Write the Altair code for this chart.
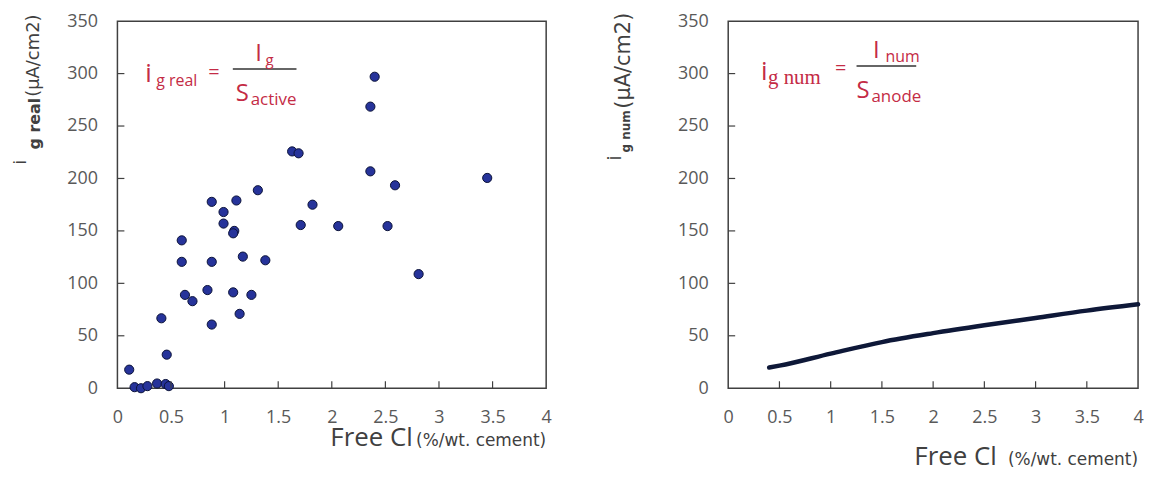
import altair as alt
import pandas as pd

# ---- data ----
real_x = [0.11, 0.16, 0.22, 0.28, 0.37, 0.45, 0.48, 0.41, 0.46, 0.60, 0.60, 0.63, 0.70,
          0.84, 0.88, 0.88, 0.88, 0.99, 0.99, 1.08, 1.09, 1.08, 1.11, 1.14, 1.17, 1.25,
          1.31, 1.38, 1.63, 1.69, 1.71, 1.82, 2.06, 2.36, 2.40, 2.36, 2.59, 2.52, 2.81, 3.45]
real_y = [17.7, 1, 0, 2, 4.5, 4, 2, 66.7, 32, 141, 120.5, 89, 83,
          93.6, 120.5, 177.7, 60.7, 168, 157, 91.4, 150, 147.7, 179, 70.9, 125.5, 89,
          188.8, 122, 225.8, 224, 155.6, 175, 154.6, 268.5, 297, 206.8, 193.5, 154.6, 108.8, 200.5]

num_x = [0.4, 0.5, 1.0, 1.5, 2.0, 2.5, 3.0, 3.5, 4.0]
num_y = [19.7, 21.5, 33.0, 44.0, 52.5, 60.0, 67.0, 74.0, 80.0]

x_ticks = [0, 0.5, 1, 1.5, 2, 2.5, 3, 3.5, 4]
x_inner_ticks = [0.5, 1, 1.5, 2, 2.5, 3, 3.5]
y_ticks = [0, 50, 100, 150, 200, 250, 300, 350]
y_inner_ticks = [50, 100, 150, 200, 250, 300]

FONT = "Open Sans"
TFONT = "DejaVu Sans"
RED = "#c42b45"
GRAY = "#595959"
DARK = "#404040"

W1, H1 = 431, 369
W2, H2 = 412, 369


def txt(text, x, y, size, color, align="left", angle=0, weight="normal", font=FONT, baseline="alphabetic"):
    return alt.Chart(pd.DataFrame({"t": [text]})).mark_text(
        text=text, align=align, baseline=baseline, angle=angle, fontSize=size,
        color=color, font=font, fontWeight=weight
    ).encode(x=alt.value(x), y=alt.value(y))


def rule_px(x, x2, y, y2, color, width):
    return alt.Chart(pd.DataFrame({"a": [0]})).mark_rule(color=color, strokeWidth=width).encode(
        x=alt.value(x), x2=alt.value(x2), y=alt.value(y), y2=alt.value(y2))


xscale = alt.Scale(domain=[0, 4], nice=False, zero=False)
yscale = alt.Scale(domain=[0, 350], nice=False)


def xaxis():
    return alt.Axis(values=x_ticks, format="~g", title=None, grid=False, ticks=False,
                    labelFont=FONT, labelFontSize=18, labelColor=GRAY, labelPadding=20,
                    domain=False, labelFlush=False)


def yaxis():
    return alt.Axis(values=y_ticks, title=None, grid=False, ticks=False,
                    labelFont=FONT, labelFontSize=18, labelColor=GRAY, labelPadding=20,
                    domain=False, labelFlush=False)


def tick_layers(H):
    xt = alt.Chart(pd.DataFrame({"v": x_inner_ticks})).mark_rule(color=DARK, strokeWidth=1.2).encode(
        x=alt.X("v:Q", scale=xscale, axis=xaxis()), y=alt.value(H), y2=alt.value(H - 7))
    yt = alt.Chart(pd.DataFrame({"v": y_inner_ticks})).mark_rule(color=DARK, strokeWidth=1.2).encode(
        y=alt.Y("v:Q", scale=yscale, axis=yaxis()), x=alt.value(0), x2=alt.value(7))
    return [xt, yt]


# ---- left panel ----
df_real = pd.DataFrame({"x": real_x, "y": real_y})
pts = alt.Chart(df_real).mark_point(filled=True, size=85, color="#26339a", stroke="#0b1238",
                                    strokeWidth=1, opacity=1).encode(
    x=alt.X("x:Q", scale=xscale, axis=xaxis()),
    y=alt.Y("y:Q", scale=yscale, axis=yaxis()))

left_layers = [pts] + tick_layers(H1) + [
    # y title
    txt("i", -92, 144, 18, DARK, angle=270),
    txt("g real", -78, 129, 16, DARK, angle=270, font=TFONT, weight="bold"),
    txt("(µA/cm2)", -79, 76, 18, DARK, angle=270, font=TFONT),
    # x title
    txt("Free Cl", 297, 427, 26, DARK, align="right"),
    txt("(%/wt. cement)", W1, 427, 17, DARK, align="right", font=TFONT),
    # formula
    txt("i", 28, 61, 26, RED),
    txt("g real", 39, 65, 16, RED),
    txt("=", 97, 58, 20, RED, align="center"),
    rule_px(116, 180, 48, 48, "#333333", 1.5),
    txt("I", 142, 40, 24, RED, align="center"),
    txt("g", 153, 44, 15, RED, align="center"),
    txt("S", 119, 80, 24, RED),
    txt("active", 134, 84, 17, RED),
]
left = alt.layer(*left_layers).properties(width=W1, height=H1)

# ---- right panel ----
df_num = pd.DataFrame({"x": num_x, "y": num_y})
line = alt.Chart(df_num).mark_line(color="#0e1838", strokeWidth=4.5, interpolate="monotone",
                                   strokeCap="round").encode(
    x=alt.X("x:Q", scale=xscale, axis=xaxis()),
    y=alt.Y("y:Q", scale=yscale, axis=yaxis()))

right_layers = [line] + tick_layers(H2) + [
    txt("i", -108, 140, 20, DARK, angle=270),
    txt("g num", -99, 132, 12, DARK, angle=270, font=TFONT, weight="bold"),
    txt("(µA/cm2)", -99, 88, 21, DARK, angle=270, font=TFONT),
    txt("Free Cl", 270, 446, 26, DARK, align="right"),
    txt("(%/wt. cement)", W2, 446, 17, DARK, align="right", font=TFONT),
    txt("i", 33, 59, 26, RED),
    txt("g num", 40, 63, 21, RED, font="Liberation Serif"),
    txt("=", 113, 54, 20, RED, align="center"),
    rule_px(129, 189, 45, 45, "#333333", 1.5),
    txt("I", 149, 37, 24, RED, align="center"),
    txt("num", 158, 41, 16, RED),
    txt("S", 129, 77, 24, RED),
    txt("anode", 144, 81, 17, RED),
]
right = alt.layer(*right_layers).properties(width=W2, height=H2)

chart = alt.hconcat(left, right, spacing=52).properties(
    padding={"left": 3, "top": 2, "right": 0, "bottom": 0},
    background="white",
).configure_view(stroke=DARK, strokeWidth=1.5)

chart.save("out.html", embed_options={"renderer": "svg", "actions": False})
